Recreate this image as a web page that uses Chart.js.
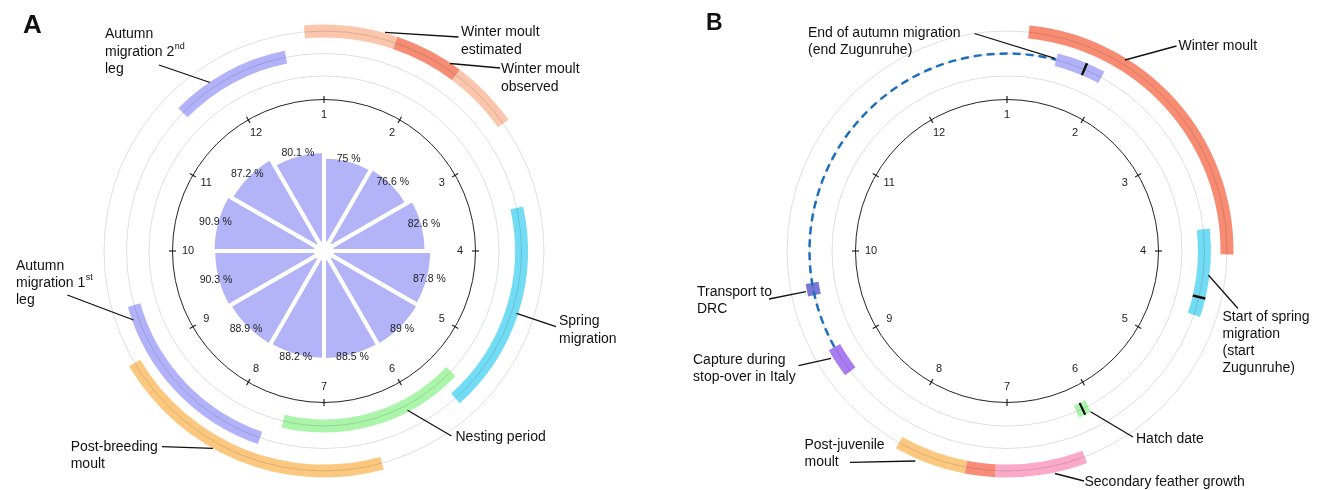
<!DOCTYPE html>
<html><head><meta charset="utf-8">
<script src="https://cdn.jsdelivr.net/npm/chart.js@4.4.1/dist/chart.umd.min.js"></script>
<style>
html,body{margin:0;padding:0;background:#fff;overflow:hidden;}
#wrap{position:relative;width:1322px;height:490px;}
canvas{position:absolute;top:0;}
</style></head><body>
<div id="wrap">
<canvas id="ringsA" width="660" height="490" style="left:0"></canvas>
<canvas id="polarA" width="660" height="490" style="left:0"></canvas>
<canvas id="ringsB" width="662" height="490" style="left:660px"></canvas>
</div>
<script>
// ---------------- DATA ----------------
const monthTicks = ['1','2','3','4','5','6','7','8','9','10','11','12'];
const wedgeMonths = ['Jan','Feb','Mar','Apr','May','Jun','Jul','Aug','Sep','Oct','Nov','Dec'];
const wedgePercent = [75, 76.6, 82.6, 87.8, 89, 88.5, 88.2, 88.9, 90.3, 90.9, 87.2, 80.1];

// Panel A phases (positions in months, 0 = start of month 1)
const phasesA = ['Winter moult estimated','Winter moult observed','Spring migration','Nesting period','Post-breeding moult','Autumn migration 1st leg','Autumn migration 2nd leg'];
const phaseStartA = [11.83, 0.63, 2.58, 4.45, 5.49, 6.63, 10.48];
const phaseEndA   = [1.82, 1.23, 4.61, 6.45, 7.98, 8.47, 11.63];
const phaseRingA  = [0, 0, 1, 2, 0, 1, 1];

// Panel B phases
const phasesB = ['Winter moult','Secondary feather growth','Post-juvenile moult','End of autumn migration','Start of spring migration','Capture during stop-over in Italy','Transport to DRC','Hatch date'];
const phaseStartB = [0.19, 5.31, 6.10, 0.48, 2.79, 7.75, 8.57, 5.08];
const phaseEndB   = [3.03, 6.36, 6.98, 0.95, 3.63, 8.03, 8.69, 5.22];
const phaseRingB  = [0, 0, 0, 1, 1, 1, 1, 2];
const markerDateB = [0.77, 3.45, 5.15];
const markerRingB = [1, 1, 2];
const migrationPathB = [8.03, 12.48];

// ---------------- STYLE / LAYOUT ----------------
const colorsA = ['#FBC6AB','#F68C73','#73DCF5','#AAF5AA','#FCC880','#B2B2FA','#B2B2FA'];
const colorsB = ['#F78C73','#FAAAC8','#FCC880','#B2B2FA','#73DCF5','#A97CF2','#7878D7','#AAF5AA'];
const overlapA = [null, null, null];
const overlapB = ['#F88C78', null, null];
const FONT = "'Liberation Sans', Arial, sans-serif";
Chart.defaults.font.family = FONT;
const R_CLOCK = 151.5, R_GUIDES = [220, 197.5, 175], RING_OUT = 226.5, RING_IN = 168.5, RING_W = 13, SPACER_W = 9.5, ROT = -60;

const annotationsA = [
  {lines:['Autumn','migration 2^nd','leg'], x:105, y:34.5, leader:[159,65,210,82.5]},
  {lines:['Winter moult','estimated'], x:461, y:32.5, leader:[385,32.3,458.5,37]},
  {lines:['Winter moult','observed'], x:501, y:69.5, leader:[450,63.5,500,68]},
  {lines:['Spring','migration'], x:559, y:321.5, leader:[516.5,313.3,556,326.7]},
  {lines:['Nesting period'], x:455.5, y:437.3, leader:[407.5,410.3,451.5,436]},
  {lines:['Post-breeding','moult'], x:70.7, y:447.3, leader:[162,446.7,213,448.3]},
  {lines:['Autumn','migration 1^st','leg'], x:16, y:265.7, leader:[67.3,295,133.5,320]}
];
const annotationsB = [
  {lines:['End of autumn migration','(end Zugunruhe)'], x:808, y:33, leader:[974.5,33.5,1055,58.3]},
  {lines:['Winter moult'], x:1178.5, y:46.5, leader:[1125,60,1176.5,46]},
  {lines:['Transport to','DRC'], x:697, y:291.7, leader:[769,299,806,291.7]},
  {lines:['Capture during','stop-over in Italy'], x:693, y:360, leader:[798.5,365.7,831,358.3]},
  {lines:['Start of spring','migration','(start','Zugunruhe)'], x:1222.5, y:316.7, leader:[1208.3,275,1238,308.5]},
  {lines:['Hatch date'], x:1136, y:439, leader:[1090.6,411.7,1133,437]},
  {lines:['Post-juvenile','moult'], x:804.5, y:445, leader:[850,462.3,915.4,461]},
  {lines:['Secondary feather growth'], x:1084.5, y:482, leader:[1055,473.5,1084,481]}
];

// ---------------- BUILD RING DATASETS ----------------
function ringDatasets(starts, ends, ringIdx, colors, overlapColors, markers, markerRings) {
  const rings = [[],[],[]];
  starts.forEach((s,i)=>{ const a=s*30; let b=ends[i]*30; if (b<a) b+=360; rings[ringIdx[i]].push({a,b,color:colors[i],layer:0}); });
  (markers||[]).forEach((m,i)=>{ const c=m*30; rings[markerRings[i]].push({a:c-0.4,b:c+0.4,color:'#111',layer:1}); });
  const out = [];
  rings.forEach((pieces, r) => {
    const ps = [];
    pieces.forEach(p => {
      const len = p.b - p.a;
      let a = (((p.a - ROT) % 360) + 360) % 360;
      let b = a + len;
      if (b > 360) { ps.push({...p, a, b:360}); ps.push({...p, a:0, b:b-360}); }
      else ps.push({...p, a, b});
    });
    const cuts = new Set([0,360]); ps.forEach(p=>{cuts.add(p.a);cuts.add(p.b);});
    const sorted = [...cuts].sort((x,y)=>x-y);
    const data=[], bg=[];
    for (let k=0;k<sorted.length-1;k++){
      const lo=sorted[k], hi=sorted[k+1];
      if (hi-lo<1e-9) continue;
      const mid=(lo+hi)/2;
      const cov = ps.filter(p=>p.a<=mid && p.b>=mid);
      const mk = cov.filter(p=>p.layer===1), ph = cov.filter(p=>p.layer===0);
      let color='rgba(0,0,0,0)';
      if (mk.length) color = mk[0].color;
      else if (ph.length>1 && overlapColors[r]) color = overlapColors[r];
      else if (ph.length) color = ph[ph.length-1].color;
      data.push(hi-lo); bg.push(color);
    }
    out.push({data, backgroundColor:bg, borderWidth:0, weight:RING_W});
    if (r<2) out.push({data:[360], backgroundColor:['rgba(0,0,0,0)'], borderWidth:0, weight:SPACER_W});
  });
  return out;
}

// ---------------- PLUGINS ----------------
function drawLines(ctx, lines, x, y, lh) {
  lines.forEach((ln, i) => {
    const yy = y + i*lh;
    const parts = ln.split('^');
    ctx.font = '14px ' + FONT;
    ctx.fillText(parts[0], x, yy);
    if (parts[1]) {
      const w = ctx.measureText(parts[0]).width;
      ctx.font = '9px ' + FONT;
      ctx.fillText(parts[1], x + w + 0.5, yy - 5);
    }
  });
}
const clockPlugin = {
  id: 'clockFace',
  afterDatasetsDraw(chart, args, opts) {
    const ctx = chart.ctx;
    const arc = chart.getDatasetMeta(0).data[0];
    const cx = arc.x, cy = arc.y;
    ctx.save();
    ctx.strokeStyle = 'rgba(0,0,0,0.13)'; ctx.lineWidth = 1;
    R_GUIDES.forEach(r => { ctx.beginPath(); ctx.arc(cx, cy, r, 0, 2*Math.PI); ctx.stroke(); });
    // migration path (dashed)
    if (opts.path) {
      const a0 = (opts.path[0]*30 - 90) * Math.PI/180, a1 = (opts.path[1]*30 - 90) * Math.PI/180;
      ctx.strokeStyle = '#1E6EBE'; ctx.lineWidth = 2.5; ctx.setLineDash([8,5]);
      ctx.beginPath(); ctx.arc(cx, cy, R_GUIDES[1], a0, a1); ctx.stroke();
      ctx.setLineDash([]);
    }
    ctx.strokeStyle = '#222'; ctx.lineWidth = 1;
    ctx.beginPath(); ctx.arc(cx, cy, R_CLOCK, 0, 2*Math.PI); ctx.stroke();
    ctx.fillStyle = '#222'; ctx.font = '11px ' + FONT; ctx.textAlign = 'center'; ctx.textBaseline = 'middle';
    ctx.lineWidth = 1.2;
    monthTicks.forEach((lab, i) => {
      const a = i*30*Math.PI/180, sx = Math.sin(a), sy = -Math.cos(a);
      ctx.beginPath(); ctx.moveTo(cx + sx*(R_CLOCK-3.5), cy + sy*(R_CLOCK-3.5)); ctx.lineTo(cx + sx*(R_CLOCK+3.5), cy + sy*(R_CLOCK+3.5)); ctx.stroke();
      ctx.fillText(lab, cx + sx*136, cy + sy*136);
    });
    // annotations
    const off = opts.offset || 0;
    ctx.strokeStyle = '#111'; ctx.lineWidth = 1.3; ctx.fillStyle = '#111';
    ctx.textAlign = 'left'; ctx.textBaseline = 'middle';
    (opts.notes||[]).forEach(n => {
      const L = n.leader;
      ctx.beginPath(); ctx.moveTo(L[0]-off, L[1]); ctx.lineTo(L[2]-off, L[3]); ctx.stroke();
      drawLines(ctx, n.lines, n.x - off, n.y, 17.2);
    });
    if (opts.letter) {
      ctx.font = 'bold ' + opts.letter.size + 'px ' + FONT; ctx.textBaseline = 'alphabetic';
      ctx.fillText(opts.letter.text, opts.letter.x - off, opts.letter.y);
    }
    ctx.restore();
  }
};
const wedgePlugin = {
  id: 'wedgeLabels',
  afterDatasetsDraw(chart) {
    const ctx = chart.ctx;
    const meta = chart.getDatasetMeta(0);
    ctx.save();
    const c = meta.data[0];
    ctx.fillStyle = '#fff';
    ctx.beginPath(); ctx.arc(c.x, c.y, 10, 0, 2*Math.PI); ctx.fill();
    ctx.fillStyle = '#222'; ctx.font = '10.5px ' + FONT; ctx.textAlign = 'center'; ctx.textBaseline = 'middle';
    meta.data.forEach((arc, i) => {
      const p = arc.getProps(['x','y','startAngle','endAngle','outerRadius']);
      const m = (p.startAngle + p.endAngle)/2, r = p.outerRadius + 1;
      ctx.fillText(wedgePercent[i] + ' %', p.x + Math.cos(m)*r, p.y + Math.sin(m)*r);
    });
    ctx.restore();
  }
};

// ---------------- CHARTS ----------------
const common = {responsive:false, animation:false, events:[], plugins:{legend:{display:false}, tooltip:{enabled:false}}};

new Chart(document.getElementById('ringsA'), {
  type: 'doughnut',
  data: { datasets: ringDatasets(phaseStartA, phaseEndA, phaseRingA, colorsA, overlapA, [], []) },
  options: { ...common, rotation: ROT, radius: RING_OUT, cutout: (RING_IN/RING_OUT*100)+'%',
    layout:{padding:{left:0,right:12,top:12,bottom:0}},
    plugins:{ ...common.plugins, clockFace:{ notes: annotationsA, offset:0, letter:{text:'A', x:23, y:32.5, size:26} } } },
  plugins: [clockPlugin]
});

new Chart(document.getElementById('polarA'), {
  type: 'polarArea',
  data: { labels: wedgeMonths, datasets: [{ data: wedgePercent, backgroundColor: '#B3B3F8', borderColor: '#fff', borderWidth: 4 }] },
  options: { ...common, layout:{padding:{left:0,right:12,top:12,bottom:0}},
    scales: { r: { min:-14, max:211, ticks:{display:false}, grid:{display:false}, angleLines:{display:false}, pointLabels:{display:false} } } },
  plugins: [wedgePlugin]
});

new Chart(document.getElementById('ringsB'), {
  type: 'doughnut',
  data: { datasets: ringDatasets(phaseStartB, phaseEndB, phaseRingB, colorsB, overlapB, markerDateB, markerRingB) },
  options: { ...common, rotation: ROT, radius: RING_OUT, cutout: (RING_IN/RING_OUT*100)+'%',
    layout:{padding:{left:32,right:0,top:12,bottom:0}},
    plugins:{ ...common.plugins, clockFace:{ notes: annotationsB, offset:660, path: migrationPathB, letter:{text:'B', x:706, y:29.5, size:23} } } },
  plugins: [clockPlugin]
});
</script>
</body></html>
